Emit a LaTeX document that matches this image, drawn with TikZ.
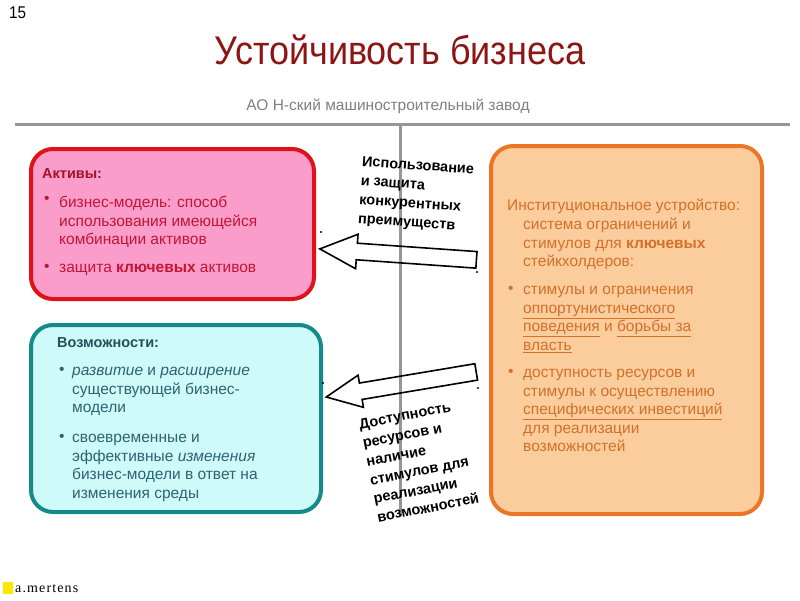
\documentclass[tikz,border=0pt]{standalone}
\usepackage{fontspec}
\setmainfont{Liberation Sans}
\newfontfamily\narrowfont[FakeStretch=0.9]{Liberation Sans}
\newfontfamily\signfont[LetterSpace=8]{Liberation Serif}
\usetikzlibrary{shapes.arrows}

\definecolor{titleRed}{RGB}{140,22,22}
\definecolor{lineGray}{RGB}{150,150,150}
\definecolor{pinkFill}{RGB}{250,157,202}
\definecolor{pinkDraw}{RGB}{222,18,24}
\definecolor{pinkText}{RGB}{192,22,52}
\definecolor{cyanFill}{RGB}{206,250,250}
\definecolor{cyanDraw}{RGB}{22,138,138}
\definecolor{cyanText}{RGB}{44,100,112}
\definecolor{orangeFill}{RGB}{251,205,157}
\definecolor{orangeDraw}{RGB}{234,118,38}
\definecolor{orangeText}{RGB}{212,112,42}

\tikzstyle{tsBox} = [
    rectangle,
    rounded corners=22pt,
    line width=4pt,
    anchor=north west,
    inner sep=0pt
]
\tikzstyle{tsBody} = [
    font=\fontsize{15.5}{18.6}\selectfont,
    align=left,
    anchor=north west,
    inner sep=0pt
]
\tikzstyle{tsArrowText} = [
    text=black,
    font=\bfseries\fontsize{14.5}{19}\selectfont,
    align=left,
    inner sep=0pt
]
\tikzstyle{tsBlockArrow} = [
    single arrow,
    draw=black,
    line width=1.6pt,
    inner sep=7.5pt,
    single arrow tip angle=50
]

\begin{document}
\begin{tikzpicture}[x=1pt, y=-1pt]
        \useasboundingbox (0,0) rectangle (800,600);

        \node[anchor=north west, inner sep=0pt, font=\narrowfont\fontsize{17}{17}\selectfont] (pageNo) at (9,7) {15};
        \node[text=titleRed, inner sep=0pt, font=\narrowfont\fontsize{40}{40}\selectfont] (title) at (400,50) {Устойчивость бизнеса};
        \node[text=lineGray!85!black, inner sep=0pt, font=\fontsize{15.5}{15.5}\selectfont] (company) at (388,106) {АО Н-ский машиностроительный завод};

        % dividing lines
        \coordinate (hLeft) at (15,124);
        \coordinate (hRight) at (790,124);
        \coordinate (vTop) at (400,124);
        \coordinate (vBottom) at (400,516);
        \draw[lineGray, line width=3pt] (hLeft) -- (hRight);
        \draw[lineGray, line width=3pt] (vTop) -- (vBottom);

        % boxes
        \node[tsBox, draw=pinkDraw, fill=pinkFill, minimum width=283pt, minimum height=150pt] (assets) at (29,147) {};
        \node[tsBox, draw=cyanDraw, fill=cyanFill, minimum width=290pt, minimum height=187pt] (chances) at (29,323) {};
        \node[tsBox, draw=orangeDraw, fill=orangeFill, minimum width=271pt, minimum height=368pt] (institutions) at (489,144) {};

        % assets
        \node[tsBody, text=pinkText!85!black, font=\bfseries\fontsize{14.5}{18.6}\selectfont] (assetsHead) at (42,168) {Активы:};
        \node[tsBody, text=pinkText] (assetsDotA) at (44,196) {•};
        \node[tsBody, text=pinkText] (assetsItemA) at (59,196) {бизнес-модель: способ\\использования имеющейся\\комбинации активов};
        \node[tsBody, text=pinkText] (assetsDotB) at (44,264) {•};
        \node[tsBody, text=pinkText] (assetsItemB) at (59,264) {защита \textbf{ключевых} активов};

        % possibilities
        \node[tsBody, text=cyanText!80!black, font=\bfseries\fontsize{14.5}{18.6}\selectfont] (chancesHead) at (57,337) {Возможности:};
        \node[tsBody, text=cyanText] (chancesDotA) at (59,367) {•};
        \node[tsBody, text=cyanText] (chancesItemA) at (72,367) {\textit{развитие} и \textit{расширение}\\существующей бизнес-\\модели};
        \node[tsBody, text=cyanText] (chancesDotB) at (59,434) {•};
        \node[tsBody, text=cyanText] (chancesItemB) at (72,434) {своевременные и\\эффективные \textit{изменения}\\бизнес-модели в ответ на\\изменения среды};

        % institutions
        \node[tsBody, text=orangeText] (instHead) at (507,199) {Институциональное устройство:};
        \node[tsBody, text=orangeText] (instHeadRest) at (523,218) {система ограничений и\\стимулов для \textbf{ключевых}\\стейкхолдеров:};
        \node[tsBody, text=orangeText] (instDotA) at (508,286) {•};
        \node[tsBody, text=orangeText] (instItemA) at (523,286) {стимулы и ограничения\\\underline{оппортунистического}\\\underline{поведения} и \underline{борьбы за}\\\underline{власть}};
        \node[tsBody, text=orangeText] (instDotB) at (508,369) {•};
        \node[tsBody, text=orangeText] (instItemB) at (523,369) {доступность ресурсов и\\стимулы к осуществлению\\\underline{специфических инвестиций}\\для реализации\\возможностей};

        % block arrows
        \node[tsBlockArrow, minimum height=157pt, single arrow head extend=9pt, rotate=176] (useArrow) at (407,255) {};
        \node[tsBlockArrow, minimum height=152pt, single arrow head extend=8pt, rotate=189.5] (accessArrow) at (410,383) {};
        \fill (321,232) circle (1.2pt);
        \fill (477,272) circle (1.2pt);
        \fill (323,383) circle (1.2pt);
        \fill (478,388) circle (1.2pt);

        \node[tsArrowText, rotate=-4] (useText) at (416,195) {Использование\\и защита\\конкурентных\\преимуществ};
        \node[tsArrowText, rotate=11] (accessText) at (419,461) {Доступность\\ресурсов и\\наличие\\стимулов для\\реализации\\возможностей};

        % footer
        \fill[yellow!90!orange] (3,582) rectangle (13,594) coordinate (signMark);
        \node[anchor=west, inner sep=0pt, font=\signfont\fontsize{14}{14}\selectfont] (sign) at (15,589) {a.mertens};
\end{tikzpicture}
\end{document}
